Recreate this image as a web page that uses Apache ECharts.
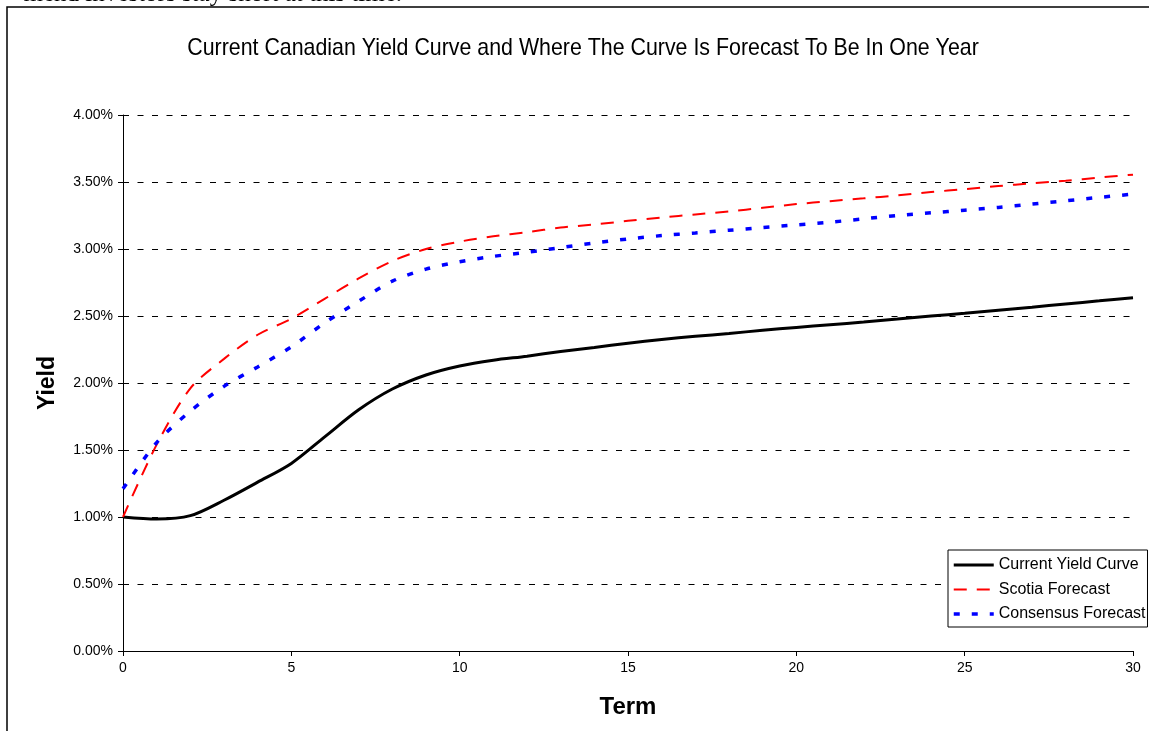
<!DOCTYPE html>
<html>
<head>
<meta charset="utf-8">
<script src="https://cdn.jsdelivr.net/npm/echarts@6/dist/echarts.min.js"></script>
<style>
html,body{margin:0;padding:0;background:#fff;overflow:hidden;}
#chart{width:1149px;height:731px;}
</style>
</head>
<body>
<div id="chart"></div>
<script>
// ---- data ----
const terms = [0,1,2,3,4,5,6,7,8,9,10,11,12,13,14,15,16,17,18,19,20,21,22,23,24,25,26,27,28,29,30];
const currentCurve = [1.00,0.985,1.01,1.125,1.26,1.40,1.60,1.80,1.955,2.06,2.127,2.17,2.20,2.235,2.265,2.297,2.325,2.348,2.37,2.393,2.415,2.435,2.455,2.477,2.50,2.52,2.543,2.566,2.59,2.613,2.637];
const scotiaForecast = [1.00,1.54,1.96,2.18,2.36,2.48,2.63,2.78,2.91,3.00,3.055,3.095,3.125,3.16,3.183,3.21,3.235,3.258,3.28,3.308,3.335,3.357,3.378,3.40,3.425,3.447,3.47,3.49,3.51,3.533,3.555];
const consensusForecast = [1.21,1.555,1.79,1.975,2.12,2.27,2.45,2.61,2.76,2.85,2.905,2.945,2.975,3.01,3.045,3.075,3.10,3.12,3.14,3.16,3.18,3.20,3.225,3.25,3.27,3.29,3.31,3.335,3.36,3.385,3.41];
const seriesNames = ['Current Yield Curve','Scotia Forecast','Consensus Forecast'];
const titleText = 'Current Canadian Yield Curve and Where The Curve Is Forecast To Be In One Year';
const topText = 'mend investors stay short at this time.';

const pairs = arr => terms.map((t,i)=>[t,arr[i]]);

const chart = echarts.init(document.getElementById('chart'), null, {renderer:'canvas'});
chart.setOption({
  animation:false,
  backgroundColor:'#fff',
  graphic:[
    {type:'rect', shape:{x:7,y:7,width:1300,height:900}, style:{fill:'none', stroke:'#000', lineWidth:1.5}, silent:true, z:-1},
    {type:'text', x:402, y:7, style:{text:topText, font:'25px "Liberation Serif", "Times New Roman", serif', fill:'#000', textAlign:'right', textVerticalAlign:'bottom'}, silent:true},
    {type:'text', x:583, y:48, scaleX:0.89, style:{text:titleText, font:'24px "Liberation Sans", Arial, sans-serif', fill:'#000', textAlign:'center', textVerticalAlign:'middle'}, silent:true}
  ],
  grid:{left:123, right:16, top:115, bottom:80, containLabel:false},
  legend:{
    data:seriesNames, orient:'vertical', left:948, top:550,
    backgroundColor:'#fff', borderColor:'#000', borderWidth:1, borderRadius:0,
    padding:[7,2,5,4], itemWidth:40, itemHeight:14, itemGap:8.5,
    itemStyle:{opacity:0},
    lineStyle:{width:'inherit', type:'inherit'},
    textStyle:{fontFamily:'Liberation Sans, Arial, sans-serif', fontSize:16, color:'#000'}
  },
  xAxis:{
    type:'value', min:0, max:30, interval:5,
    name:'Term', nameLocation:'middle', nameGap:44,
    nameTextStyle:{fontFamily:'Liberation Sans, Arial, sans-serif', fontSize:24, fontWeight:'bold', color:'#000'},
    axisLine:{onZero:false, lineStyle:{color:'#000', width:1}},
    axisTick:{show:true, length:5, lineStyle:{color:'#000'}},
    axisLabel:{fontFamily:'Liberation Sans, Arial, sans-serif', fontSize:14, color:'#000', margin:10},
    splitLine:{show:false}
  },
  yAxis:{
    type:'value', min:0, max:4, interval:0.5,
    name:'Yield', nameLocation:'middle', nameGap:64, nameRotate:90,
    nameTextStyle:{fontFamily:'Liberation Sans, Arial, sans-serif', fontSize:23, fontWeight:'bold', color:'#000'},
    axisLine:{show:true, lineStyle:{color:'#000', width:1}},
    axisTick:{show:true, length:5, lineStyle:{color:'#000'}},
    axisLabel:{fontFamily:'Liberation Sans, Arial, sans-serif', fontSize:14, color:'#000', margin:10,
      formatter:v=>v.toFixed(2)+'%'},
    splitLine:{show:true, lineStyle:{color:'#000', width:1, type:[6,8.5]}}
  },
  series:[
    {name:seriesNames[0], type:'line', data:pairs(currentCurve), smooth:0.3, showSymbol:false, symbol:'none',
     lineStyle:{color:'#000', width:3, type:'solid'}, itemStyle:{color:'#000'}, z:3},
    {name:seriesNames[1], type:'line', data:pairs(scotiaForecast), smooth:0.3, showSymbol:false, symbol:'none',
     lineStyle:{color:'#ff0000', width:2, type:[13,10]}, itemStyle:{color:'#ff0000'}, z:4},
    {name:seriesNames[2], type:'line', data:pairs(consensusForecast), smooth:0.3, showSymbol:false, symbol:'none',
     lineStyle:{color:'#0000ff', width:3.5, type:[6,12], cap:'butt'}, itemStyle:{color:'#0000ff'}, z:5}
  ]
});
</script>
</body>
</html>
